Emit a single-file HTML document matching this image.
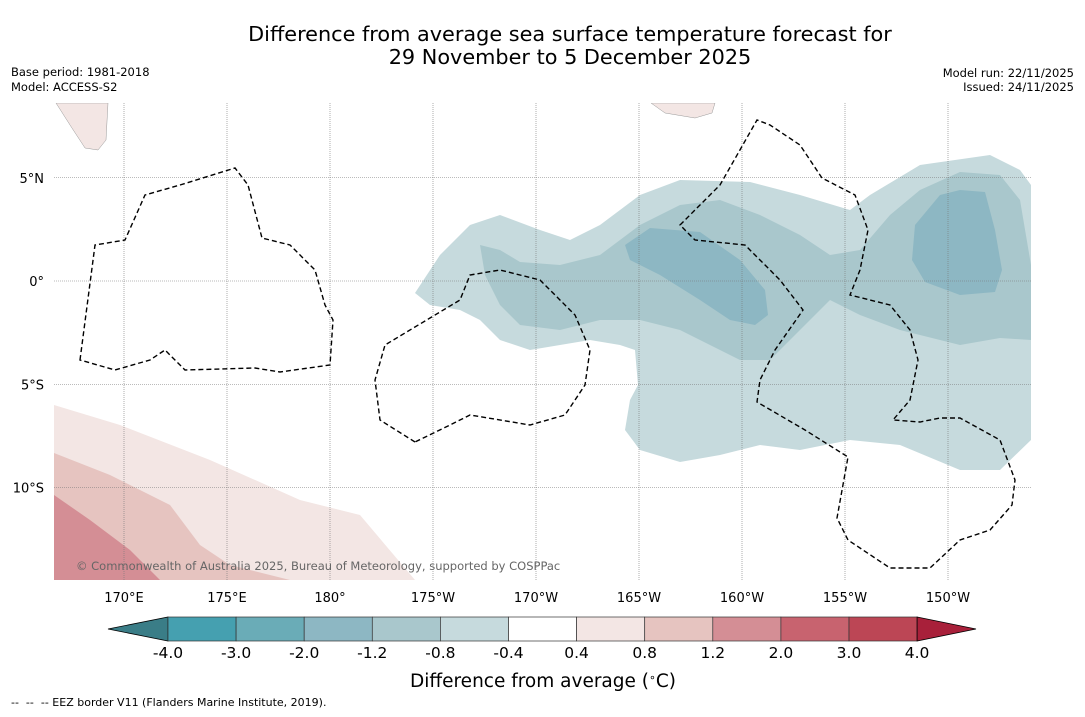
<!DOCTYPE html>
<html><head><meta charset="utf-8"><style>
body{margin:0;background:#fff;font-family:"DejaVu Sans","Liberation Sans",sans-serif}
svg text{font-family:"DejaVu Sans","Liberation Sans",sans-serif}
</style></head><body>
<svg id="chart" width="1085" height="713" viewBox="0 0 1085 713" xmlns="http://www.w3.org/2000/svg">
<rect width="1085" height="713" fill="#fff"/>
<text x="570" y="41" font-size="20.8" text-anchor="middle">Difference from average sea surface temperature forecast for</text>
<text x="570" y="64" font-size="20.8" text-anchor="middle">29 November to 5 December 2025</text>
<text x="11" y="76" font-size="11.5">Base period: 1981-2018</text>
<text x="11" y="91" font-size="11.5">Model: ACCESS-S2</text>
<text x="1074" y="77" font-size="11.5" text-anchor="end">Model run: 22/11/2025</text>
<text x="1074" y="91" font-size="11.5" text-anchor="end">Issued: 24/11/2025</text>
<g>
<clipPath id="mc"><rect x="54" y="103" width="977" height="477"/></clipPath>
<g clip-path="url(#mc)">
<path fill="#c6dadd" d="M415,293 L440,255 L470,225 L500,215 L540,230 L570,240 L600,225 L640,195 L680,180 L750,182 L800,195 L850,210 L870,195 L920,165 L990,155 L1020,170 L1031,185 L1031,440 L1000,470 L960,470 L900,445 L850,440 L800,450 L760,445 L720,455 L680,462 L640,450 L625,430 L630,400 L638,385 L635,350 L620,345 L590,340 L560,345 L530,350 L500,340 L480,320 L460,310 L430,305 Z"/>
<path fill="#a9c7cc" d="M480,245 L500,250 L520,262 L560,265 L600,255 L640,225 L680,205 L720,200 L760,215 L800,235 L830,255 L860,250 L890,215 L920,190 L960,172 L1000,175 L1020,200 L1031,265 L1031,340 L1000,338 L960,345 L900,330 L860,315 L830,300 L800,330 L770,360 L740,360 L710,345 L680,330 L640,320 L600,320 L560,330 L520,325 L500,305 L485,275 Z"/>
<path fill="#8db7c3" d="M625,245 L650,228 L700,232 L740,260 L765,290 L768,315 L755,325 L730,320 L700,300 L660,275 L630,260 Z"/>
<path fill="#8db7c3" d="M915,225 L940,195 L960,190 L985,192 L995,230 L1002,270 L995,292 L960,295 L925,282 L912,260 Z"/>
<path fill="#f3e6e4" d="M54,405 L120,425 L210,460 L300,500 L360,515 L415,580 L54,580 Z"/>
<path fill="#e6c4c0" d="M54,453 L110,475 L170,505 L200,545 L230,565 L290,580 L54,580 Z"/>
<path fill="#d48e95" d="M54,495 L90,520 L130,550 L160,580 L54,580 Z"/>
<path fill="#f3e6e4" stroke="#999" stroke-width="0.5" d="M56,103 L108,103 L106,140 L98,150 L85,148 L70,125 Z"/>
<path fill="#f3e6e4" stroke="#999" stroke-width="0.5" d="M651,103 L715,103 L712,113 L695,118 L665,113 Z"/>
</g>
<g id="grid" stroke="#777" stroke-width="0.6" stroke-dasharray="1,1"></g>
<g id="eez" fill="none" stroke="#000" stroke-width="1.4" stroke-dasharray="5,3">
<path d="M80,360 L95,245 L125,240 L145,195 L180,185 L235,168 L248,185 L262,238 L290,245 L315,270 L325,305 L333,320 L330,365 L280,372 L255,368 L185,370 L165,350 L150,360 L115,370 Z"/>
<path d="M415,442 L380,420 L375,380 L385,345 L430,318 L460,300 L470,275 L500,270 L540,280 L575,315 L590,350 L585,385 L565,415 L530,425 L470,415 L450,425 Z"/>
<path d="M680,225 L720,185 L757,120 L770,125 L800,145 L822,178 L855,195 L868,230 L860,270 L850,295 L890,305 L910,330 L918,360 L910,400 L893,420 L920,422 L940,418 L960,418 L1000,440 L1015,480 L1012,505 L990,530 L960,540 L930,568 L890,568 L848,540 L837,518 L848,457 L805,430 L757,402 L760,380 L775,350 L803,310 L780,280 L745,245 L695,240 Z"/>
</g>
</g>
<text x="76" y="570" font-size="11.5" fill="#666">© Commonwealth of Australia 2025, Bureau of Meteorology, supported by COSPPac</text>
<g id="axes" font-size="13"></g>
<g id="cbar"></g>
<text x="543" y="687" font-size="18.5" text-anchor="middle">Difference from average (<tspan baseline-shift="super" font-size="11">∘</tspan>C)</text>
<text x="11" y="706" font-size="11" xml:space="preserve">--  --  -- EEZ border V11 (Flanders Marine Institute, 2019).</text>
</svg>
<script>
const lonLabels=["170°E","175°E","180°","175°W","170°W","165°W","160°W","155°W","150°W"];
const lonValues=[170,175,180,185,190,195,200,205,210];
const latLabels=["5°N","0°","5°S","10°S"];
const latValues=[5,0,-5,-10];
const levels=["-4.0","-3.0","-2.0","-1.2","-0.8","-0.4","0.4","0.8","1.2","2.0","3.0","4.0"];
const levelColors=["#45a0b0","#6aacb7","#8db7c3","#a9c7cc","#c6dadd","#ffffff","#f3e6e4","#e6c4c0","#d48e95","#c8636f","#bc4655"];
const NS="http://www.w3.org/2000/svg";
const xs=lon=>124+(lon-170)*20.6;
const ys=lat=>281-lat*20.65;
const grid=document.getElementById('grid'),axes=document.getElementById('axes');
function mk(t,a,p){const e=document.createElementNS(NS,t);for(const k in a)e.setAttribute(k,a[k]);p.appendChild(e);return e;}
lonValues.forEach((v,i)=>{
 const l=mk('line',{x1:xs(v),x2:xs(v),y1:103,y2:580},grid);
 
 
 const t=mk('text',{x:xs(v),y:602,'text-anchor':'middle'},axes);t.textContent=lonLabels[i];
 
 
});
latValues.forEach((v,i)=>{
 const l=mk('line',{x1:54,x2:1031,y1:ys(v),y2:ys(v)},grid);
 
 
 const t=mk('text',{x:44,y:ys(v)+5,'text-anchor':'end'},axes);t.textContent=latLabels[i];
 
 
});
const cb=document.getElementById('cbar');const x0=168,w=68.1,y0=617,h=24;
const lt=mk('polygon',{points:`108,629 ${x0},${y0} ${x0},${y0+h}`,fill:'#3a7d87',stroke:'#000','stroke-width':0.8},cb);


levelColors.forEach((c,i)=>{
 const r=mk('rect',{x:x0+i*w,y:y0,width:w,height:h,fill:c,stroke:'#333','stroke-width':0.7},cb);
 
 
});
const xe=x0+levelColors.length*w;
const rt=mk('polygon',{points:`${xe},${y0} 976,629 ${xe},${y0+h}`,fill:'#a8203a',stroke:'#000','stroke-width':0.8},cb);


levels.forEach((s,i)=>{
 const t=mk('text',{x:x0+i*w,y:658,'font-size':15.5,'text-anchor':'middle'},cb);t.textContent=s;
 
 
});
</script>
</body></html>
